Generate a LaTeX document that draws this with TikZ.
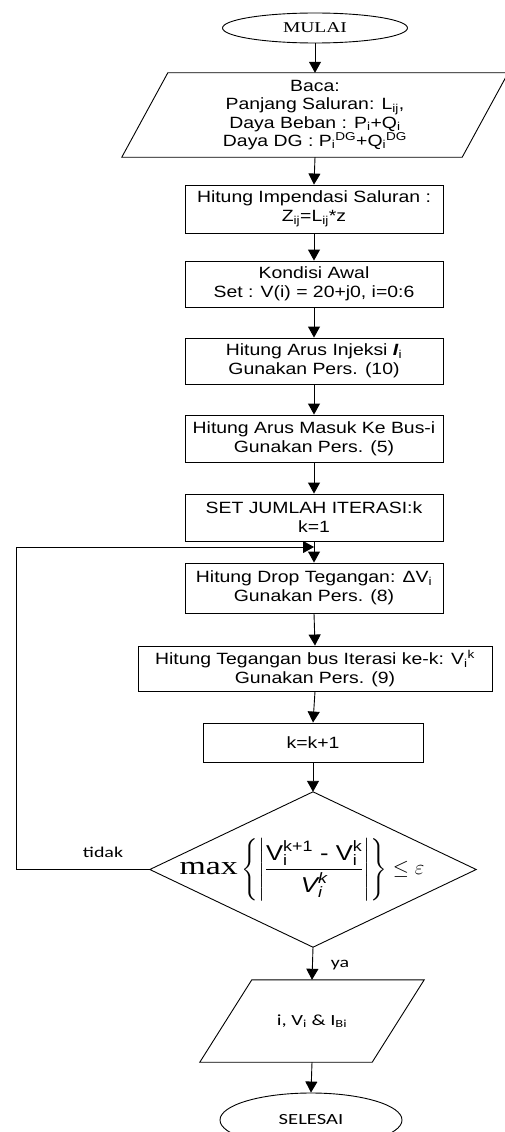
\documentclass[tikz,border=0pt]{standalone}
\usepackage{amsmath}
\usepackage{fontspec}
\setmainfont[FakeStretch=1.19]{Liberation Sans}
\newfontfamily\tnrfont[FakeStretch=1.3]{Liberation Serif}
\newfontfamily\calibfont[FakeStretch=1.33]{Carlito}
\usetikzlibrary{arrows.meta,shapes.geometric,calc}
\begin{document}
\begin{tikzpicture}[x=1pt,y=-1pt,
  ln/.style={line width=0.9pt},
  box/.style={draw, ln, rectangle, align=center, inner sep=0pt,
    font=\fontsize{16.3}{19}\selectfont},
  txt/.style={align=center, inner sep=0pt, font=\fontsize{16.3}{18.3}\selectfont},
  term/.style={draw, ln, ellipse, inner sep=0pt},
  arr/.style={ln, -{Triangle[width=12pt,length=11pt]}},
  lbl/.style={inner sep=0pt, font=\calibfont\fontsize{15}{15}\selectfont}]
\useasboundingbox (0,0) rectangle (504,1132);

% start
\node[term, minimum width=185, minimum height=30,
  font=\tnrfont\fontsize{15}{15}\selectfont] (start) at (315,28) {MULAI};

% read input (parallelogram)
\node[txt, minimum width=340, minimum height=84] (read) at (315,115)
  {Baca:\\ Panjang Saluran: L\textsubscript{ij},\\
   Daya Beban : P\textsubscript{i}+Q\textsubscript{i}\\
   Daya DG : P\textsubscript{i}\textsuperscript{DG}+Q\textsubscript{i}\textsuperscript{DG}};
\draw[ln] ($(read.north west)+(23,0)$) -- ($(read.north east)+(23,0)$)
  -- ($(read.south east)+(-23,0)$) -- ($(read.south west)+(-23,0)$) -- cycle;

% process boxes
\node[box, minimum width=258, minimum height=48] (imp) at (314,209)
  {Hitung Impendasi Saluran :\\ Z\textsubscript{ij}=L\textsubscript{ij}*z};
\node[box, minimum width=258, minimum height=46] (awal) at (314,284)
  {Kondisi Awal\\ Set : V(i) = 20+j0, i=0:6};
\node[box, minimum width=258, minimum height=46] (inj) at (314,361)
  {Hitung Arus Injeksi \textbf{\textit{I}}\textsubscript{i}\\ Gunakan Pers. (10)};
\node[box, minimum width=258, minimum height=47] (masuk) at (314,438.5)
  {Hitung Arus Masuk Ke Bus-i\\ Gunakan Pers. (5)};
\node[box, minimum width=258, minimum height=47] (set) at (314,517.5)
  {SET JUMLAH ITERASI:k\\ k=1};
\node[box, minimum width=258, minimum height=50] (drop) at (314,588)
  {Hitung Drop Tegangan: ΔV\textsubscript{i}\\ Gunakan Pers. (8)};
\node[box, minimum width=354, minimum height=45] (teg) at (315,668.5)
  {Hitung Tegangan bus Iterasi ke-k: V\textsubscript{i}\textsuperscript{k}\\ Gunakan Pers. (9)};
\node[box, minimum width=220, minimum height=39] (kk) at (313,742.5) {k=k+1};

% decision
\node[minimum width=326, minimum height=155, inner sep=0pt,
  font=\fontsize{21.5}{25}\selectfont] (dec) at (313,869.5)
  {\hspace*{-22pt}$\mathop{\text{\tnrfont\fontsize{26}{26}\selectfont max}}\left\{\left|\dfrac{\text{V}_{\text{i}}^{\text{k+1}}\text{ - }\text{V}_{\text{i}}^{\text{k}}}{\text{\itshape V}_{\text{\itshape i}}^{\text{\itshape k}}}\right|\right\}\le\varepsilon$};
\draw[ln] (dec.north) -- (dec.east) -- (dec.south) -- (dec.west) -- cycle;

% output (parallelogram)
\node[minimum width=172, minimum height=82, inner sep=0pt,
  font=\calibfont\fontsize{15.5}{18}\selectfont] (out) at (312,1021)
  {i, V\textsubscript{i} \& I\textsubscript{Bi}};
\draw[ln] ($(out.north west)+(26,0)$) -- ($(out.north east)+(26,0)$)
  -- ($(out.south east)+(-26,0)$) -- ($(out.south west)+(-26,0)$) -- cycle;

% end
\node[term, minimum width=182, minimum height=54,
  font=\calibfont\fontsize{15.5}{15.5}\selectfont] (stop) at (311,1120) {SELESAI};

% labels
\node[lbl] (tidak) at (103,852) {tidak};
\node[lbl] (ya) at (340,965) {ya};

% connectors
\draw[arr] (start.south) -- (read.north);
\draw[arr] (read.south) -- (imp.north);
\draw[arr] (imp.south) -- (awal.north);
\draw[arr] (awal.south) -- (inj.north);
\draw[arr] (inj.south) -- (masuk.north);
\draw[arr] (masuk.south) -- (set.north);
\draw[arr] (set.south) -- (drop.north);
\draw[arr] (drop.south) -- (teg.north);
\draw[arr] (teg.south) -- (kk.north);
\draw[arr] (kk.south) -- (dec.north);
\draw[arr] (dec.south) -- (out.north);
\draw[arr] (out.south) -- (stop.north);

\coordinate (lp1) at (16,869.5);
\coordinate (lp2) at (16,547);
\coordinate (mg) at (314,547);
\draw[arr] (dec.west) -- (lp1) -- (lp2) -- (mg);
\end{tikzpicture}
\end{document}
